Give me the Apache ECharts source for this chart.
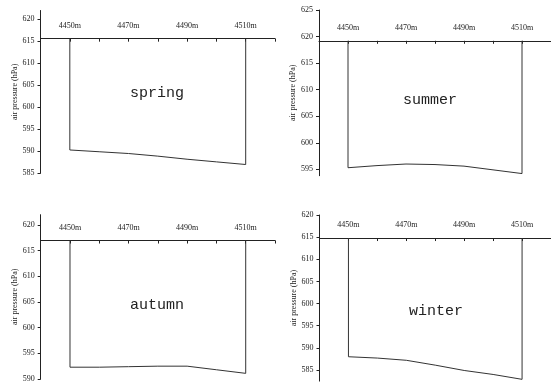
<!DOCTYPE html>
<html><head><meta charset="utf-8">
<script src="https://cdn.jsdelivr.net/npm/echarts@6/dist/echarts.min.js"></script>
<style>html,body{margin:0;padding:0;background:#fff}#c{width:551px;height:383px}</style>
</head><body><div id="c"></div>
<script>
// ---- data ----
const altitudes = [4450, 4460, 4470, 4480, 4490, 4500, 4510];
const spring = [590.3, 589.9, 589.5, 588.9, 588.2, 587.6, 587.0];
const summer = [595.3, 595.7, 596.0, 595.9, 595.6, 594.9, 594.2];
const autumn = [592.3, 592.3, 592.4, 592.5, 592.5, 591.8, 591.1];
const winter = [588.0, 587.7, 587.2, 586.1, 584.9, 584.0, 582.9];
const seasonNames = ['spring', 'summer', 'autumn', 'winter'];
const xTickLabels = [4450, 4470, 4490, 4510];
const xRange = [4440, 4520];
const yRanges = [[585, 622], [593.8, 625], [590, 622], [582.5, 620]];
const xAxisCross = [615.6, 619.2, 617, 614.8];
const yTicks = [
  [585, 590, 595, 600, 605, 610, 615, 620],
  [595, 600, 605, 610, 615, 620, 625],
  [590, 595, 600, 605, 610, 615, 620],
  [585, 590, 595, 600, 605, 610, 615, 620]
];
const yAxisName = 'air pressure (hPa)';
const seriesValues = [spring, summer, autumn, winter];

// ---- layout ----
const W = 551, H = 383;
const grids = [
  {left: 40.5, right: 276, top: 10.5, bottom: 209.7},
  {left: 319, right: -3, top: 10, bottom: 207.3},
  {left: 40.7, right: 276, top: 214.7, bottom: 3},
  {left: 319.5, right: -3, top: 215, bottom: 1.9}
];
const labelPos = [[157, 93], [430, 100], [157, 305], [436, 311]];

const serif = '"Liberation Serif", "DejaVu Serif", serif';
const lineColor = '#222';

const option = {
  animation: false,
  backgroundColor: '#fff',
  grid: grids.map(g => Object.assign({containLabel: false}, g)),
  xAxis: grids.map((g, i) => {
    const h = H - g.top - g.bottom;
    const [ymin, ymax] = yRanges[i];
    const off = -(ymax - xAxisCross[i]) / (ymax - ymin) * h;
    return {
      type: 'value', gridIndex: i, position: 'top', offset: off,
      min: xRange[0], max: xRange[1], interval: 10,
      axisLine: {onZero: false, lineStyle: {color: lineColor, width: 1}},
      axisTick: {show: true, inside: true, length: 3, lineStyle: {color: lineColor}},
      axisLabel: {
        customValues: xTickLabels, margin: 9,
        formatter: v => v + 'm',
        fontFamily: serif, fontSize: 8, color: '#222'
      },
      splitLine: {show: false}
    };
  }),
  yAxis: grids.map((g, i) => ({
    type: 'value', gridIndex: i,
    min: yRanges[i][0], max: yRanges[i][1],
    name: yAxisName, nameLocation: 'middle', nameGap: 22, nameRotate: 90,
    nameTextStyle: {fontFamily: serif, fontSize: 8, color: '#222'},
    axisLine: {show: true, onZero: false, lineStyle: {color: lineColor, width: 1}},
    axisTick: {show: true, customValues: yTicks[i], length: 3, lineStyle: {color: lineColor}},
    axisLabel: {
      customValues: yTicks[i], margin: 6,
      fontFamily: serif, fontSize: 8, color: '#222'
    },
    splitLine: {show: false}
  })),
  series: seriesValues.map((vals, i) => ({
    type: 'line', xAxisIndex: i, yAxisIndex: i,
    symbol: 'none', silent: true,
    lineStyle: {color: '#333', width: 1},
    data: [[altitudes[0], xAxisCross[i]]]
      .concat(altitudes.map((a, k) => [a, vals[k]]))
      .concat([[altitudes[altitudes.length - 1], xAxisCross[i]]])
  })),
  graphic: seasonNames.map((name, i) => ({
    type: 'text', x: labelPos[i][0], y: labelPos[i][1], silent: true,
    style: {
      text: name, align: 'center', verticalAlign: 'middle',
      font: '15px "Liberation Mono", "DejaVu Sans Mono", monospace',
      fill: '#222'
    }
  }))
};

const chart = echarts.init(document.getElementById('c'), null, {renderer: 'canvas'});
chart.setOption(option);
</script>
</body></html>
